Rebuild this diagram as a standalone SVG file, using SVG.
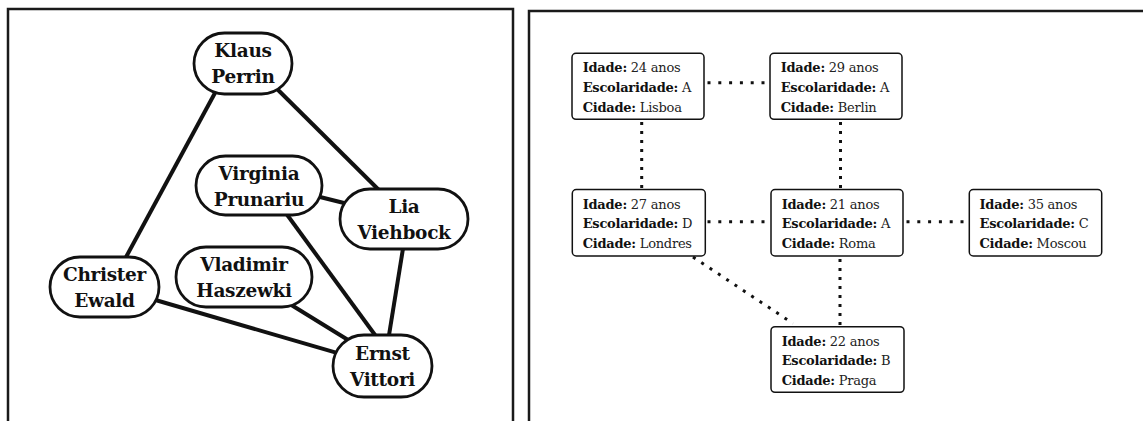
<svg xmlns="http://www.w3.org/2000/svg" width="1143" height="421" viewBox="0 0 1143 421">
<style>
.frame{fill:none;stroke:#1a1a1a;stroke-width:2.5}
.node rect{fill:#fff;stroke:#111;stroke-width:2.8}
.node text{font-family:"DejaVu Serif","Liberation Serif",serif;font-weight:bold;font-size:18.5px;letter-spacing:-0.3px;fill:#111;text-anchor:middle}
.edge{stroke:#111;stroke-width:4;fill:none}
.box rect{fill:#fff;stroke:#111;stroke-width:1.5}
.box text{font-family:"DejaVu Serif","Liberation Serif",serif;font-size:13px;letter-spacing:-0.25px;fill:#222}
.box tspan.k{font-weight:bold;fill:#111}
.dh{stroke:#111;stroke-width:3;fill:none;stroke-dasharray:3 7.8}
.dv{stroke:#111;stroke-width:3;fill:none;stroke-dasharray:3 6}
.dd{stroke:#111;stroke-width:3;fill:none;stroke-dasharray:3 7}
</style>
<path class="frame" d="M8,421 V9 H513 V421"/>
<path class="frame" d="M529,421 V11 H1145"/>
<g id="edges-left">
<line class="edge" x1="222" y1="80" x2="119" y2="270"/>
<line class="edge" x1="263" y1="75" x2="394" y2="205"/>
<line class="edge" x1="300" y1="192" x2="370" y2="209.5"/>
<line class="edge" x1="276.3" y1="200" x2="386" y2="350"/>
<line class="edge" x1="406" y1="230" x2="386.6" y2="350"/>
<line class="edge" x1="280" y1="298" x2="370" y2="353.5"/>
<line class="edge" x1="140" y1="295.5" x2="360" y2="359.7"/>
</g>
<g id="klaus" class="node"><rect x="194" y="33" width="98" height="61" rx="30.5"/><text x="243" y="57">Klaus</text><text x="243" y="83">Perrin</text></g>
<g id="virginia" class="node"><rect x="196" y="156" width="126" height="59" rx="29.5"/><text x="259" y="180">Virginia</text><text x="259" y="206">Prunariu</text></g>
<g id="lia" class="node"><rect x="340" y="189" width="128" height="60" rx="30"/><text x="404" y="213">Lia</text><text x="404" y="239">Viehbock</text></g>
<g id="christer" class="node"><rect x="50" y="257" width="109" height="60" rx="30"/><text x="104.5" y="281">Christer</text><text x="104.5" y="307">Ewald</text></g>
<g id="vladimir" class="node"><rect x="176" y="247" width="136" height="60" rx="30"/><text x="244" y="271">Vladimir</text><text x="244" y="297">Haszewki</text></g>
<g id="ernst" class="node"><rect x="333" y="335" width="99" height="62" rx="31"/><text x="382.5" y="360">Ernst</text><text x="382.5" y="386">Vittori</text></g>
<g id="edges-right">
<line class="dh" x1="707.5" y1="82.7" x2="770" y2="82.7"/>
<line class="dv" x1="641.7" y1="122" x2="641.7" y2="189"/>
<line class="dv" x1="840.5" y1="122" x2="840.5" y2="189"/>
<line class="dh" x1="707.5" y1="221.7" x2="771" y2="221.7"/>
<line class="dh" x1="906.5" y1="221.7" x2="969" y2="221.7"/>
<line class="dv" x1="840" y1="259" x2="840" y2="326"/>
<line class="dd" x1="693" y1="257" x2="793" y2="323.5"/>
</g>
<g id="b-lisboa" class="box"><rect x="572" y="53.3" width="132" height="66" rx="4"/>
<text x="582.7" y="72.3"><tspan class="k">Idade:</tspan> 24 anos</text>
<text x="582.7" y="92"><tspan class="k">Escolaridade:</tspan> A</text>
<text x="582.7" y="111.7"><tspan class="k">Cidade:</tspan> Lisboa</text></g>
<g id="b-berlin" class="box"><rect x="770" y="53.3" width="132" height="66" rx="4"/>
<text x="780.7" y="72.3"><tspan class="k">Idade:</tspan> 29 anos</text>
<text x="780.7" y="92"><tspan class="k">Escolaridade:</tspan> A</text>
<text x="780.7" y="111.7"><tspan class="k">Cidade:</tspan> Berlin</text></g>
<g id="b-londres" class="box"><rect x="572.3" y="189.5" width="133" height="66.5" rx="4"/>
<text x="582.7" y="208.5"><tspan class="k">Idade:</tspan> 27 anos</text>
<text x="582.7" y="228.2"><tspan class="k">Escolaridade:</tspan> D</text>
<text x="582.7" y="247.9"><tspan class="k">Cidade:</tspan> Londres</text></g>
<g id="b-roma" class="box"><rect x="771" y="189.5" width="132" height="66.5" rx="4"/>
<text x="781.7" y="208.5"><tspan class="k">Idade:</tspan> 21 anos</text>
<text x="781.7" y="228.2"><tspan class="k">Escolaridade:</tspan> A</text>
<text x="781.7" y="247.9"><tspan class="k">Cidade:</tspan> Roma</text></g>
<g id="b-moscou" class="box"><rect x="969.3" y="189.5" width="132.4" height="66.5" rx="4"/>
<text x="979.5" y="208.5"><tspan class="k">Idade:</tspan> 35 anos</text>
<text x="979.5" y="228.2"><tspan class="k">Escolaridade:</tspan> C</text>
<text x="979.5" y="247.9"><tspan class="k">Cidade:</tspan> Moscou</text></g>
<g id="b-praga" class="box"><rect x="771" y="326.7" width="133" height="65.6" rx="4"/>
<text x="781.7" y="345.7"><tspan class="k">Idade:</tspan> 22 anos</text>
<text x="781.7" y="365.4"><tspan class="k">Escolaridade:</tspan> B</text>
<text x="781.7" y="385.1"><tspan class="k">Cidade:</tspan> Praga</text></g>
</svg>
